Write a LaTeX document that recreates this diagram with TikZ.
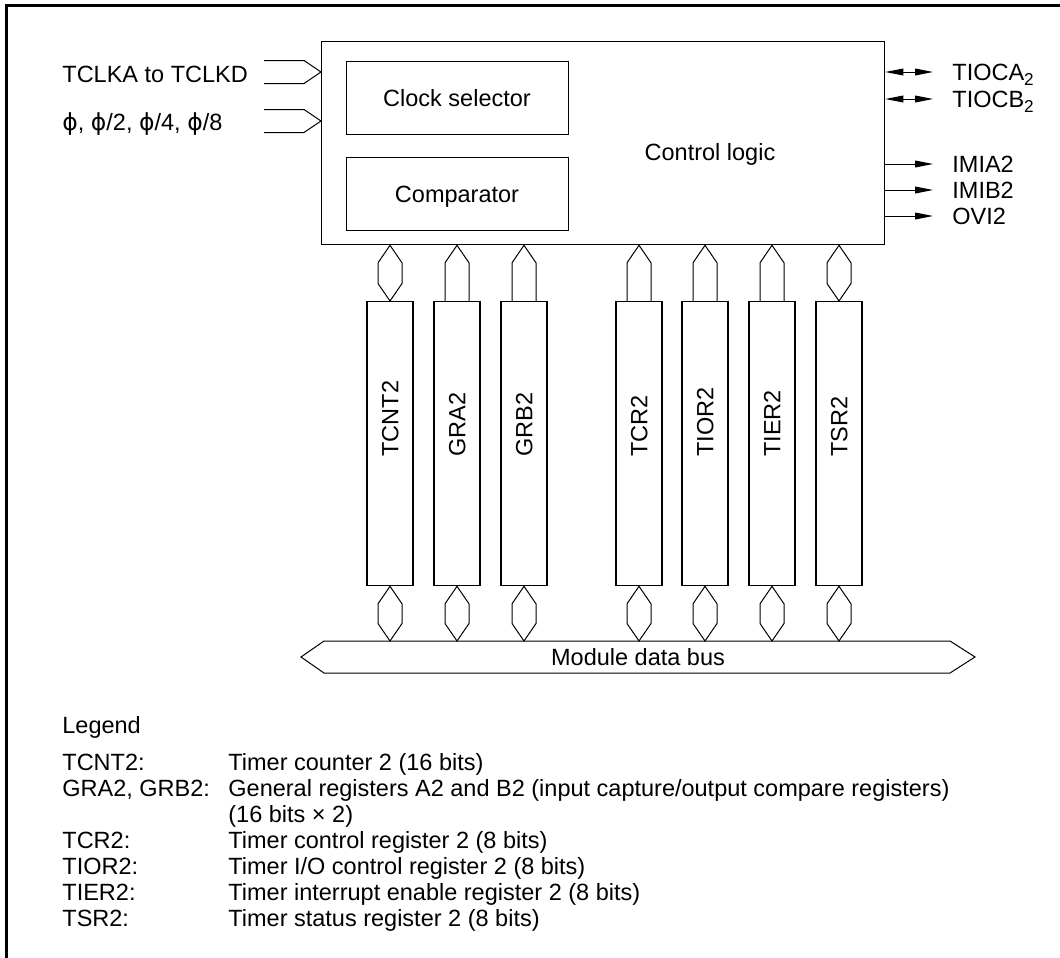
\documentclass[tikz,border=0pt]{standalone}
\usepackage{fontspec}
\setmainfont{Liberation Sans}
\newfontfamily\dejavu{DejaVu Sans}
\usetikzlibrary{arrows.meta,calc}
\newcommand\phisym{{\dejavu ϕ}}
\newcommand\lowtwo{\raisebox{-0.4ex}{\fontsize{8.6}{9}\selectfont 2}}
\newcommand\hexconn[2]{\draw[conn] (#1) -- ($(#1)+(12,17.5)$) -- ($(#2)+(12,-17.5)$) -- (#2) -- ($(#2)+(-12,-17.5)$) -- ($(#1)+(-12,17.5)$) -- cycle;}
\newcommand\upconn[2]{\draw[conn] ($(#2)+(12,0)$) -- ($(#1)+(12,17.5)$) -- (#1) -- ($(#1)+(-12,17.5)$) -- ($(#2)+(-12,0)$);}
\newcommand\inarrow[1]{\draw[conn] ($(#1)+(-57,-11.5)$) -- ($(#1)+(-17,-11.5)$) -- (#1) -- ($(#1)+(-17,11.5)$) -- ($(#1)+(-57,11.5)$);}
\begin{document}
\begin{tikzpicture}[x=0.5pt,y=-0.5pt, line join=miter,
  conn/.style={line width=0.5pt},
  box/.style={draw, line width=0.65pt, inner sep=0pt},
  reg/.style={box, minimum width=23pt, minimum height=142pt, anchor=north},
  lbl/.style={font=\fontsize{11.75}{13}\selectfont, inner sep=0pt},
  tipA/.style={line width=0.5pt, -{Triangle[length=9pt,width=3.4pt]}},
  tipB/.style={line width=0.5pt, {Triangle[length=9pt,width=3.4pt]}-{Triangle[length=9pt,width=3.4pt]}}
  ]
\useasboundingbox (0,0) rectangle (1060,958);
% frame
\draw[line width=1.5pt] (6.5,958) -- (6.5,5.5) -- (1060,5.5);

% control block
\node[box, anchor=north west, minimum width=281.5pt, minimum height=101.5pt] (ctrl) at (321,41) {};
\node[box, anchor=north west, minimum width=111pt, minimum height=36.5pt] (clk) at (346,61) {};
\node[box, anchor=north west, minimum width=111pt, minimum height=36.5pt] (cmp) at (346,157) {};
\node[lbl, anchor=base] (clkt) at (457,106) {Clock selector};
\node[lbl, anchor=base] (cmpt) at (457,202) {Comparator};
\node[lbl, anchor=base] (ctlt) at (710,160) {Control logic};

% inputs
\node[lbl, anchor=base west] (in1) at (62,82.3) {TCLKA to TCLKD};
\node[lbl, anchor=base west] (in2) at (62,130) {\phisym, \phisym/2, \phisym/4, \phisym/8};
\coordinate (i1) at (ctrl.west |- 0,72);
\coordinate (i2) at (ctrl.west |- 0,121);
\inarrow{i1}
\inarrow{i2}

% outputs
\foreach \n/\y/\t/\s in {oa/72/TIOCA\lowtwo/tipB, ob/99/TIOCB\lowtwo/tipB, oc/164/IMIA2/tipA, od/190/IMIB2/tipA, oe/216/OVI2/tipA}{
  \node[lbl, anchor=base west] (\n) at (952,\y+8.4) {\t};
  \coordinate (\n e) at (933,\y);
  \draw[\s] (ctrl.east |- \n e) -- (\n e);
}

% registers
\foreach \n/\x/\t in {r1/390/TCNT2, r2/457/GRA2, r3/524/GRB2, r4/639/TCR2, r5/705/TIOR2, r6/772/TIER2, r7/839/TSR2}{
  \node[reg] (\n) at (\x,301) {};
  \node[lbl, rotate=90, anchor=base west] (\n t) at (\x+8.4,457) {\t};
  \coordinate (\n a) at (\n.north |- ctrl.south);
  \coordinate (\n b) at (\n.north);
  \coordinate (\n c) at (\n.south);
  \coordinate (\n d) at (\x,641);
  \hexconn{\n c}{\n d}
}
\hexconn{r1a}{r1b}
\upconn{r2a}{r2b}
\upconn{r3a}{r3b}
\upconn{r4a}{r4b}
\upconn{r5a}{r5b}
\upconn{r6a}{r6b}
\hexconn{r7a}{r7b}

% bus
\draw[conn] (301,657) -- (324,641) -- (950,641) -- (975,657) -- (950,673) -- (324,673) -- cycle;
\node[lbl, anchor=base] (bus) at (638,665.4) {Module data bus};

% legend
\node[lbl, anchor=base west] (lg) at (62,733.4) {Legend};
\node[lbl, anchor=base west] (l1a) at (62,770.1) {TCNT2:};
\node[lbl, anchor=base west] (l1b) at (228,770.1) {Timer counter 2 (16 bits)};
\node[lbl, anchor=base west] (l2a) at (62,796.2) {GRA2, GRB2:};
\node[lbl, anchor=base west] (l2b) at (228,796.2) {General registers A2 and B2 (input capture/output compare registers)};
\node[lbl, anchor=base west] (l3b) at (228,822.2) {(16 bits × 2)};
\node[lbl, anchor=base west] (l4a) at (62,848.3) {TCR2:};
\node[lbl, anchor=base west] (l4b) at (228,848.3) {Timer control register 2 (8 bits)};
\node[lbl, anchor=base west] (l5a) at (62,874.3) {TIOR2:};
\node[lbl, anchor=base west] (l5b) at (228,874.3) {Timer I/O control register 2 (8 bits)};
\node[lbl, anchor=base west] (l6a) at (62,900.4) {TIER2:};
\node[lbl, anchor=base west] (l6b) at (228,900.4) {Timer interrupt enable register 2 (8 bits)};
\node[lbl, anchor=base west] (l7a) at (62,926.4) {TSR2:};
\node[lbl, anchor=base west] (l7b) at (228,926.4) {Timer status register 2 (8 bits)};
\end{tikzpicture}
\end{document}
